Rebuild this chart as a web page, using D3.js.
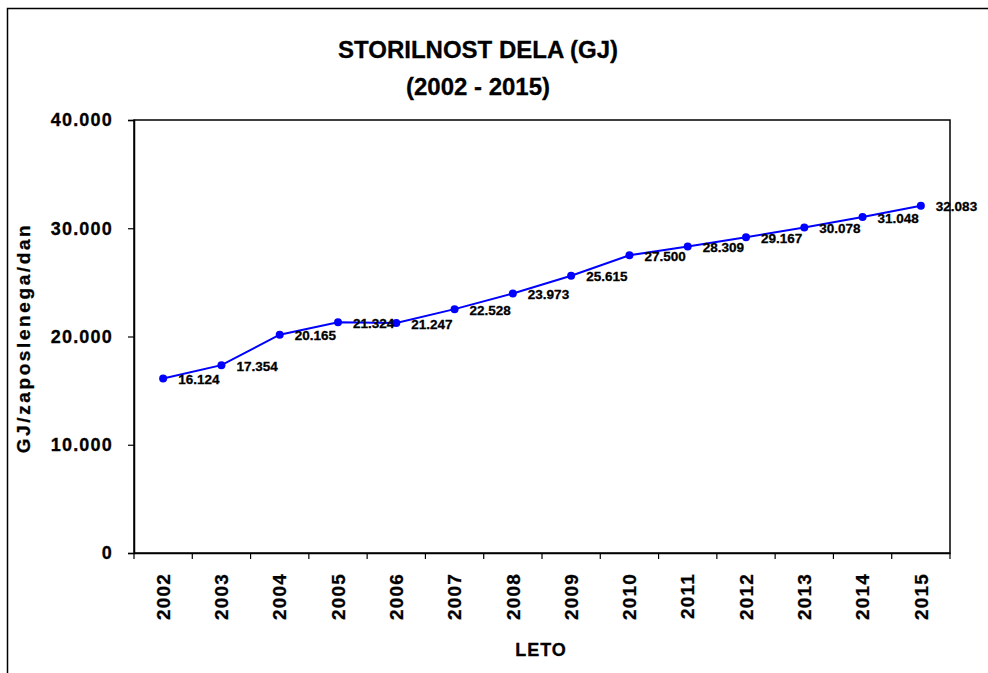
<!DOCTYPE html>
<html><head><meta charset="utf-8">
<script src="https://cdn.jsdelivr.net/npm/d3@7"></script>
<style>
html,body{margin:0;padding:0;background:#fff;}
text{font-family:"Liberation Sans",Arial,sans-serif;font-weight:bold;fill:#000;}
</style></head>
<body>
<svg id="chart" width="988" height="673"></svg>
<script>
const years = ["2002","2003","2004","2005","2006","2007","2008","2009","2010","2011","2012","2013","2014","2015"];
const values = [16124,17354,20165,21324,21247,22528,23973,25615,27500,28309,29167,30078,31048,32083];
const yTicks = [0,10000,20000,30000,40000];
const titleLines = ["STORILNOST DELA (GJ)","(2002 - 2015)"];
const yLabel = "GJ/zaposlenega/dan";
const xLabel = "LETO";

const fmt = v => v === 0 ? "0" : d3.format(",")(v).replace(/,/g, ".");

const svg = d3.select("#chart");
const L = 134, T = 120, R = 950, B = 553;

svg.append("rect").attr("x",7.5).attr("y",8.5).attr("width",1000).attr("height",700)
  .attr("fill","none").attr("stroke","#000").attr("stroke-width",1.5);

const x = d3.scaleBand().domain(years).range([L,R]).padding(0);
const y = d3.scaleLinear().domain([0,40000]).range([B,T]);

svg.append("rect").attr("x",L).attr("y",T).attr("width",R-L).attr("height",B-T)
  .attr("fill","none").attr("stroke","#000").attr("stroke-width",1.5);

const styleText = (sel, size, ls) => sel.attr("font-size",size).attr("letter-spacing",ls+"px")
  .style("font-family","'Liberation Sans',Arial,sans-serif").style("font-weight","bold")
  .attr("fill","#000").attr("stroke","#000").attr("stroke-width",0.3);

// y axis
const yAxis = svg.append("g").attr("transform",`translate(${L},0)`)
  .call(d3.axisLeft(y).tickValues(yTicks).tickSize(6).tickPadding(15).tickFormat(fmt));
yAxis.select(".domain").attr("stroke","#000").attr("stroke-width",1.5);
yAxis.selectAll(".tick line").attr("stroke","#000").attr("stroke-width",1.2);
styleText(yAxis.selectAll(".tick text"), 18, 1.2);

// x axis
const xAxis = svg.append("g").attr("transform",`translate(0,${B})`)
  .call(d3.axisBottom(x).tickSize(0).tickFormat(d=>d));
xAxis.select(".domain").attr("stroke","#000").attr("stroke-width",1.5);
const bounds = years.map(d=>x(d)).concat([R]);
xAxis.selectAll(".bnd").data(bounds).enter().append("line").attr("class","bnd")
  .attr("x1",d=>d).attr("x2",d=>d).attr("y1",0).attr("y2",6).attr("stroke","#000").attr("stroke-width",1.2);
styleText(xAxis.selectAll(".tick text")
  .attr("text-anchor","end").attr("dy","0.35em")
  .attr("x",-20).attr("y",0)
  .attr("transform","rotate(-90)"), 19, 1.2);

// line
const line = d3.line().x((d,i)=>x(years[i])+x.bandwidth()/2).y(d=>y(d));
svg.append("path").datum(values).attr("d",line).attr("fill","none").attr("stroke","#0000ff").attr("stroke-width",2);
svg.selectAll(".pt").data(values).enter().append("circle").attr("class","pt")
  .attr("cx",(d,i)=>x(years[i])+x.bandwidth()/2).attr("cy",d=>y(d)).attr("r",4).attr("fill","#0000ff");
styleText(svg.selectAll(".lbl").data(values).enter().append("text").attr("class","lbl")
  .attr("x",(d,i)=>x(years[i])+x.bandwidth()/2+15).attr("y",d=>y(d)+1)
  .attr("dy","0.35em").text(fmt), 13.5, 0);

// title
styleText(svg.selectAll(".title").data(titleLines).enter().append("text").attr("class","title")
  .attr("x",478).attr("y",(d,i)=>50+i*37).attr("dy","0.35em").attr("text-anchor","middle")
  .text(d=>d), 24, 0);

// axis labels
styleText(svg.append("text").attr("transform","translate(30,338) rotate(-90)").attr("text-anchor","middle")
  .text(yLabel), 19, 2.6);
styleText(svg.append("text").attr("x",541).attr("y",650).attr("dy","0.35em").attr("text-anchor","middle")
  .text(xLabel), 18, 1);
</script>
</body></html>
